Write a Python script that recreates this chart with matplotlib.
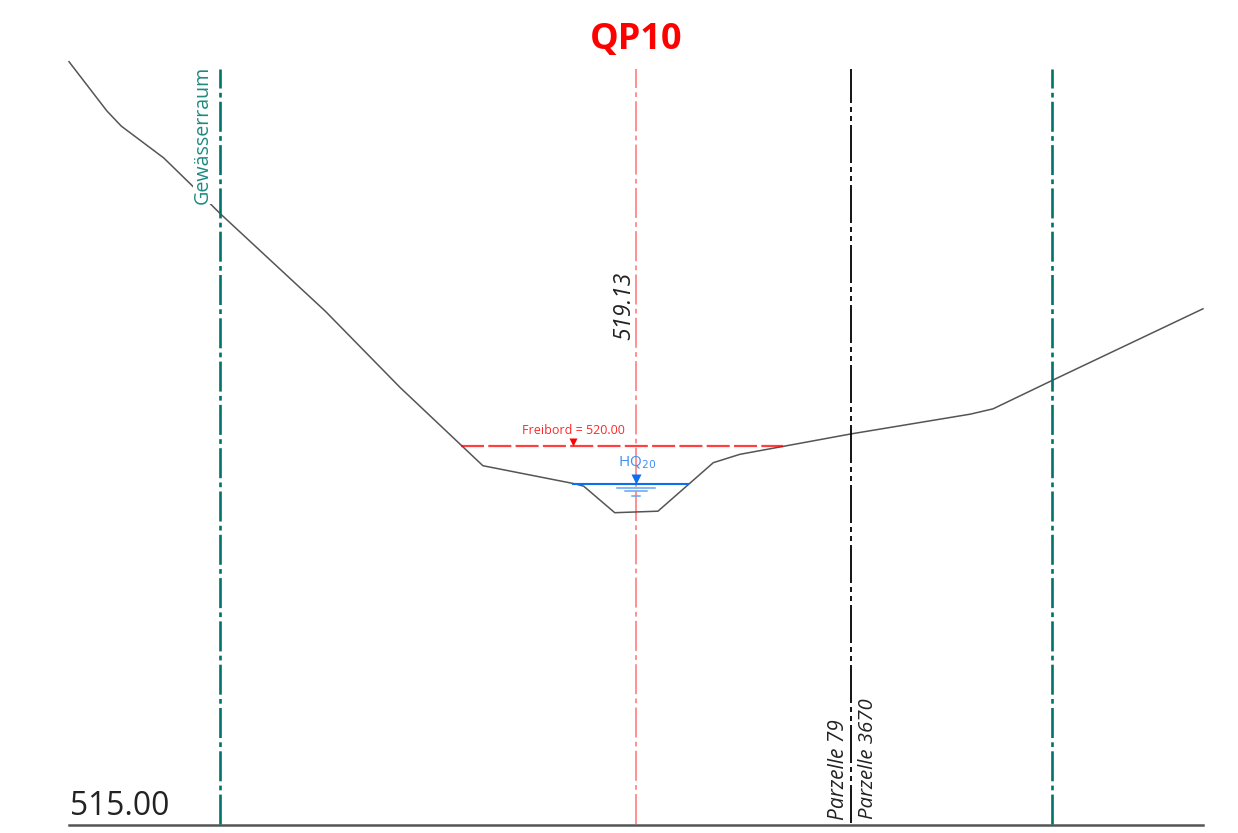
import matplotlib
matplotlib.use("Agg")
import matplotlib.pyplot as plt

# terrain profile, distance [m] / elevation [m a.s.l.]
terrain_x = [0, 0.50, 0.69, 1.25, 1.64, 1.99, 3.38, 4.37, 5.46, 6.68, 6.79, 7.20,
             7.77, 8.50, 8.85, 10.32, 11.89, 12.19, 12.96, 14.96]
terrain_y = [525.07, 524.42, 524.22, 523.80, 523.42, 523.07, 521.78, 520.77, 519.74,
             519.50, 519.47, 519.12, 519.14, 519.78, 519.89, 520.16, 520.42, 520.49,
             520.86, 521.81]

base_level = 515.00
top_level = 524.97
axis_x = 7.48
axis_label = "519.13"
freibord_x = [5.17, 9.42]
freibord_level = 520.00
hq_x = [6.65, 8.17]
hq_level = 519.50
gewaesser_x = [1.99, 12.97]
parcel_x = 10.32

scale = 75.8  # px per metre
px = 0.72  # points per px
green = "#00736b"
green_text = "#1f8a80"
red = "#ff0000"
blue = "#0a6ff0"
grey = "#555555"
dark = "#222222"

plt.rcParams["font.family"] = ["Open Sans", "DejaVu Sans"]
plt.rcParams["lines.scale_dashes"] = False

# dash patterns measured in px, (offset, on/off...)
axis_dash = (11 * px, (30 * px, 4.3 * px, 4.7 * px, 4.3 * px))
parcel_dash = (4 * px, (38 * px, 4 * px, 5 * px, 4 * px, 5 * px, 4 * px))
freibord_dash = (0, (23 * px, 4.3 * px))

fig = plt.figure(figsize=(12.38, 8.33), dpi=100)
ax = fig.add_axes([0, 0, 1, 1])
ax.set_xlim(-69 / scale, (1238 - 69) / scale)
ax.set_ylim(base_level - (833 - 825) / scale, base_level + 825 / scale)
ax.axis("off")

ax.plot(terrain_x, terrain_y, color=grey, lw=1.1, zorder=2)
ax.plot([0, 14.96], [base_level, base_level], color=grey, lw=1.8, zorder=2)

for x in gewaesser_x:
    ax.plot([x, x], [top_level, base_level], color=green, lw=1.9,
            linestyle=axis_dash, zorder=3)
ax.plot([axis_x, axis_x], [top_level, base_level], color=red, lw=1.1, alpha=0.55,
        linestyle=axis_dash, zorder=3)
ax.plot([parcel_x, parcel_x], [top_level, base_level], color="black", lw=1.3,
        linestyle=parcel_dash, zorder=3)

ax.plot(freibord_x, [freibord_level, freibord_level], color=red, lw=1.6, alpha=0.75,
        linestyle=freibord_dash, zorder=4)
ax.plot(hq_x, [hq_level, hq_level], color=blue, lw=1.5, zorder=4)

# water level symbols
ax.plot([axis_x], [hq_level + 0.07], marker="v", ms=7, color=blue, mec="none", zorder=5)
ax.plot([6.65], [freibord_level + 0.05], marker="v", ms=6, color=red, mec="none", zorder=5)
for half, drop in zip([0.25, 0.14, 0.05], [0.05, 0.10, 0.155]):
    ax.plot([axis_x - half, axis_x + half], [hq_level - drop, hq_level - drop],
            color="#66a3f5", lw=1.1, zorder=4)

ax.text(7.48, 525.35, "QP10", color=red, fontsize=26, fontweight="bold",
        ha="center", va="center")
ax.text(6.65, 520.21, "Freibord = 520.00", color=red, alpha=0.85, fontsize=9,
        ha="center", va="center")
ax.text(7.49, 519.78, "HQ$_{20}$", color="#3f90f5", fontsize=11, ha="center", va="center",
        math_fontfamily="dejavusans")
ax.text(7.32, 521.85, axis_label, color=dark, fontsize=16.4, style="italic",
        rotation=90, ha="center", va="center")
ax.text(1.77, 524.10, "Gewässerraum", color=green_text, fontsize=14.1, rotation=90,
        ha="center", va="center", zorder=6, bbox=dict(fc="white", ec="none", pad=0))
ax.text(10.15, 515.07, "Parzelle 79", color=dark, fontsize=15, style="italic",
        rotation=90, ha="center", va="bottom")
ax.text(10.54, 515.08, "Parzelle 3670", color=dark, fontsize=14.7, style="italic",
        rotation=90, ha="center", va="bottom")
ax.text(0.01, 515.13, "515.00", color=dark, fontsize=22.9, ha="left", va="baseline")

fig.savefig("out.png", dpi=100)
